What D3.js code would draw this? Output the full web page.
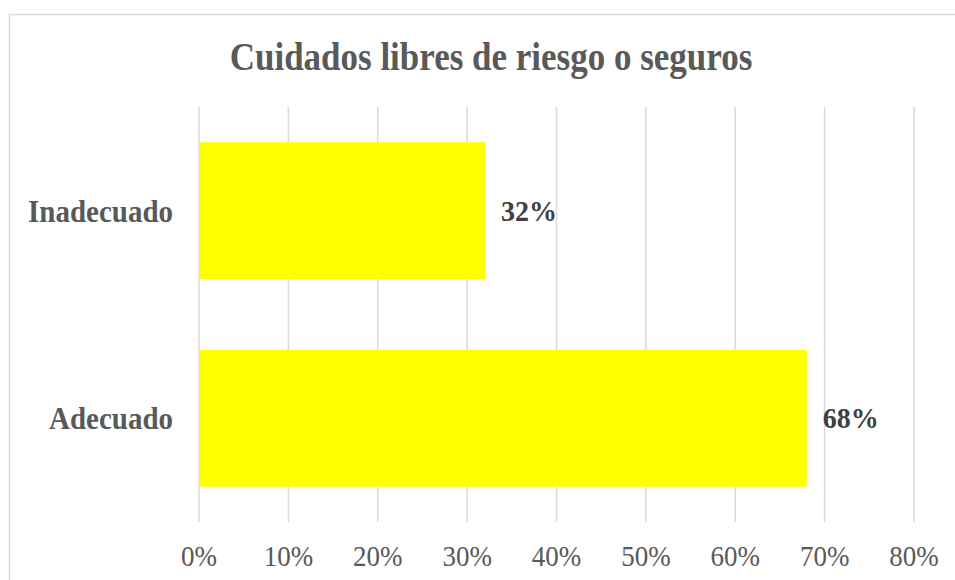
<!DOCTYPE html>
<html>
<head>
<meta charset="utf-8">
<script src="https://cdn.jsdelivr.net/npm/d3@7"></script>
<style>
  body { margin: 0; background: #fff; }
  svg { display: block; }
</style>
</head>
<body>
<svg id="chart" width="955" height="580"></svg>
<script>
// chart data
const title = "Cuidados libres de riesgo o seguros";
const categories = ["Inadecuado", "Adecuado"];
const values = [0.32, 0.68];
const ticks = [0, 0.1, 0.2, 0.3, 0.4, 0.5, 0.6, 0.7, 0.8];

const FONT = "Liberation Serif";
const svg = d3.select("svg#chart");
const plot = { left: 199, right: 914, top: 107, bottom: 522 };

// outer frame (cropped on the right and bottom)
svg.append("rect")
    .attr("x", 9.5).attr("y", 14.5)
    .attr("width", 960).attr("height", 600)
    .attr("fill", "#fff")
    .attr("stroke", "#d9d9d9")
    .attr("stroke-width", 1.5);

const x = d3.scaleLinear().domain([0, 0.8]).range([plot.left, plot.right]);
const y = d3.scaleBand().domain(categories).range([plot.top, plot.bottom]).paddingInner(0.34).paddingOuter(0.17);

// gridlines
svg.append("g").selectAll("line")
    .data(ticks)
    .join("line")
    .attr("x1", d => x(d)).attr("x2", d => x(d))
    .attr("y1", plot.top).attr("y2", plot.bottom)
    .attr("stroke", "#d9d9d9")
    .attr("stroke-width", 1.5);

// bars
svg.append("g").selectAll("rect")
    .data(categories)
    .join("rect")
    .attr("x", x(0))
    .attr("y", d => y(d))
    .attr("width", (d, i) => x(values[i]) - x(0))
    .attr("height", y.bandwidth())
    .attr("fill", "#ffff00");

// the reference text is a little taller than wide
const place = (sel, tx, ty, sy) => sel.attr("transform", `translate(${tx},${ty}) scale(1,${sy})`);

// value labels
svg.append("g").selectAll("text")
    .data(categories)
    .join("text")
    .text((d, i) => Math.round(values[i] * 100) + "%")
    .each(function (d, i) {
        place(d3.select(this), x(values[i]) + 16, y(d) + y.bandwidth() / 2 + 10, 1.06);
    })
    .attr("font-family", FONT)
    .attr("font-size", 28)
    .attr("font-weight", "bold")
    .attr("fill", "#404040");

// category labels
svg.append("g").selectAll("text")
    .data(categories)
    .join("text")
    .text(d => d)
    .each(function (d) {
        place(d3.select(this), 173, y(d) + y.bandwidth() / 2 + 11, 1.12);
    })
    .attr("font-family", FONT)
    .attr("text-anchor", "end")
    .attr("font-size", 29)
    .attr("font-weight", "bold")
    .attr("fill", "#595959");

// x tick labels
svg.append("g").selectAll("text")
    .data(ticks)
    .join("text")
    .text(d3.format(".0%"))
    .each(function (d) {
        place(d3.select(this), x(d), 566, 1.1);
    })
    .attr("font-family", FONT)
    .attr("text-anchor", "middle")
    .attr("font-size", 27)
    .attr("fill", "#595959");

// title
place(svg.append("text"), 491, 70, 1.15)
    .text(title)
    .attr("font-family", FONT)
    .attr("text-anchor", "middle")
    .attr("font-size", 35)
    .attr("font-weight", "bold")
    .attr("fill", "#595959");
</script>
</body>
</html>
